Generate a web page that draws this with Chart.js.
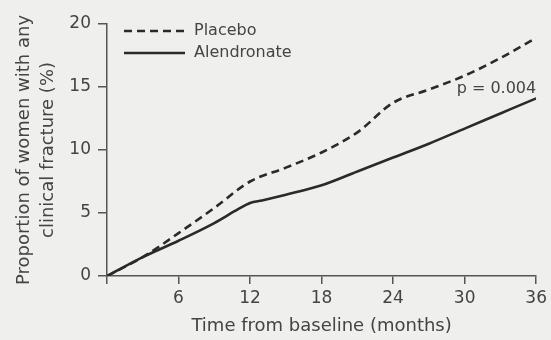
<!DOCTYPE html>
<html>
<head>
<meta charset="utf-8">
<script src="https://cdn.jsdelivr.net/npm/chart.js@4"></script>
<style>
  html, body { margin: 0; padding: 0; background: #efefed; }
  #wrap { width: 551px; height: 340px; position: relative; }
</style>
</head>
<body>
<div id="wrap"><canvas id="chart" width="551" height="340"></canvas></div>
<script>
// months from baseline
var placeboMonths = [0, 3, 6, 9, 12, 15, 18, 21, 24, 27, 30, 33, 36]
var placeboValues = [0, 1.5, 3.4, 5.4, 7.5, 8.6, 9.8, 11.4, 13.75, 14.8, 15.9, 17.3, 18.9]
var alendMonths = [0, 3, 6, 9, 11, 12, 13, 15, 18, 21, 24, 27, 30, 33, 36]
var alendValues = [0, 1.5, 2.8, 4.2, 5.3, 5.8, 6.0, 6.45, 7.2, 8.3, 9.4, 10.5, 11.7, 12.9, 14.1]
var xTicks = [0, 6, 12, 18, 24, 30, 36]
var yTicks = [0, 5, 10, 15, 20]
var seriesNames = ['Placebo', 'Alendronate']
var pLabel = 'p = 0.004'

var textColor = '#444444'
var lineColor = '#2a2a2a'
var fontFamily = '"DejaVu Sans", sans-serif'

function toPoints(xs, ys) {
    var pts = []
    for (var i = 0; i < xs.length; i++) {
        pts.push({x: xs[i], y: ys[i]})
    }
    return pts
}

// legend drawn inside the plot area, top left
var insideLegend = {
    id: 'insideLegend',
    afterDraw: function(chart) {
        var ctx = chart.ctx
        var area = chart.chartArea
        ctx.save()
        ctx.font = '16px ' + fontFamily
        ctx.textBaseline = 'middle'
        chart.data.datasets.forEach(function(ds, i) {
            var y = area.top + 7 + i * 22
            var x0 = area.left + 17
            ctx.strokeStyle = ds.borderColor
            ctx.lineWidth = ds.borderWidth
            ctx.setLineDash(ds.borderDash || [])
            ctx.beginPath()
            ctx.moveTo(x0, y)
            ctx.lineTo(x0 + 61, y)
            ctx.stroke()
            ctx.setLineDash([])
            ctx.fillStyle = textColor
            ctx.fillText(ds.label, x0 + 70, y)
        })
        ctx.restore()
    }
}

// p value note near the end of the lines
var pNote = {
    id: 'pNote',
    afterDraw: function(chart) {
        var ctx = chart.ctx
        var xs = chart.scales.x
        var ys = chart.scales.y
        ctx.save()
        ctx.font = '16px ' + fontFamily
        ctx.fillStyle = textColor
        ctx.textAlign = 'right'
        ctx.textBaseline = 'middle'
        ctx.fillText(pLabel, xs.getPixelForValue(36), ys.getPixelForValue(14.85))
        ctx.restore()
    }
}

var canvas = document.getElementById('chart').getContext('2d')

var chart = new Chart(canvas, {
    type: 'line',
    data: {
        datasets: [{
            label: seriesNames[0],
            data: toPoints(placeboMonths, placeboValues),
            borderColor: lineColor,
            borderWidth: 2.6,
            borderDash: [8, 5],
            pointRadius: 0,
            fill: false,
            cubicInterpolationMode: 'monotone'
        }, {
            label: seriesNames[1],
            data: toPoints(alendMonths, alendValues),
            borderColor: lineColor,
            borderWidth: 2.6,
            pointRadius: 0,
            fill: false,
            cubicInterpolationMode: 'monotone'
        }]
    },
    options: {
        responsive: false,
        animation: false,
        layout: { padding: { top: 24, right: 13, left: 0, bottom: 0 } },
        plugins: {
            legend: { display: false },
            tooltip: { enabled: false }
        },
        scales: {
            x: {
                type: 'linear',
                min: 0,
                max: 36,
                afterBuildTicks: function(scale) {
                    scale.ticks = xTicks.map(function(v) { return {value: v} })
                },
                afterFit: function(scale) { scale.height = 64 },
                ticks: {
                    color: textColor,
                    font: { family: fontFamily, size: 17 },
                    padding: 4,
                    maxRotation: 0,
                    callback: function(v) { return v === 0 ? '' : String(v) }
                },
                grid: { drawOnChartArea: false, drawTicks: true, tickLength: 8, color: '#555', lineWidth: 1.5 },
                border: { display: true, color: '#555', width: 1.5 },
                title: {
                    display: true,
                    text: 'Time from baseline (months)',
                    color: textColor,
                    font: { family: fontFamily, size: 18 },
                    padding: { top: 0, bottom: 3 }
                }
            },
            y: {
                min: 0,
                max: 20,
                afterBuildTicks: function(scale) {
                    scale.ticks = yTicks.map(function(v) { return {value: v} })
                },
                afterFit: function(scale) { scale.width = 107 },
                ticks: {
                    color: textColor,
                    font: { family: fontFamily, size: 17 },
                    padding: 7
                },
                grid: { drawOnChartArea: false, drawTicks: true, tickLength: 9, color: '#555', lineWidth: 1.5 },
                border: { display: true, color: '#555', width: 1.5 },
                title: {
                    display: true,
                    text: ['Proportion of women with any', 'clinical fracture (%)'],
                    color: textColor,
                    font: { family: fontFamily, size: 18, lineHeight: 1.33 },
                    padding: { top: 12, bottom: 0 }
                }
            }
        }
    },
    plugins: [insideLegend, pNote]
})
</script>
</body>
</html>
